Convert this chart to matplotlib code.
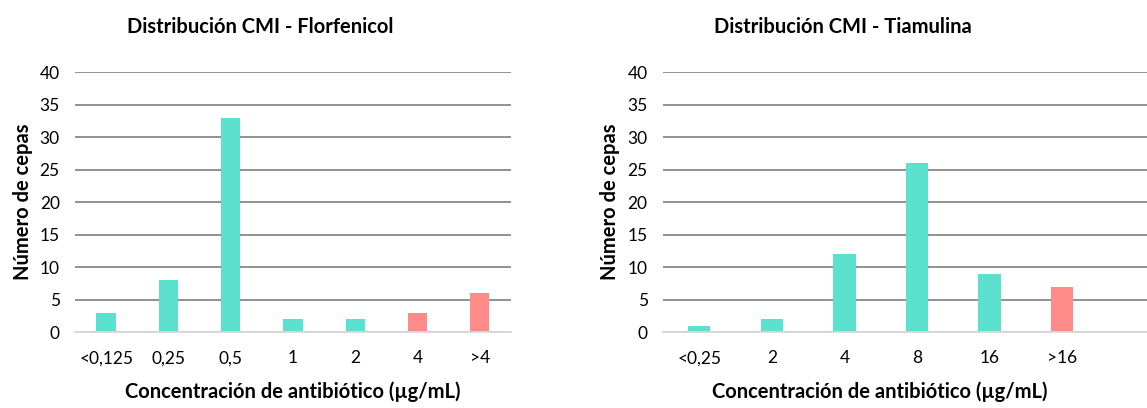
import matplotlib
matplotlib.use("Agg")
import matplotlib.pyplot as plt

plt.rcParams['font.family'] = ['Lato', 'DejaVu Sans']

# Florfenicol
flor_cats = ['<0,125', '0,25', '0,5', '1', '2', '4', '>4']
flor_vals = [3, 8, 33, 2, 2, 3, 6]
flor_resist = [False, False, False, False, False, True, True]

# Tiamulina
tiam_cats = ['<0,25', '2', '4', '8', '16', '>16']
tiam_vals = [1, 2, 12, 26, 9, 7]
tiam_resist = [False, False, False, False, False, True]

TEAL = '#5CE1CF'
SALMON = '#FF8A8A'
GRID = '#888888'


def draw(ax, cats, vals, resist, title, xmax):
    x = list(range(len(cats)))
    colors = [SALMON if r else TEAL for r in resist]
    ax.set_axisbelow(True)
    ax.yaxis.grid(True, color=GRID, linewidth=1.3)
    ax.bar(x, vals, width=0.31, color=colors, zorder=3)
    ax.set_ylim(0, 40)
    ax.set_xlim(-0.5, xmax)
    ax.set_yticks(range(0, 41, 5))
    ax.set_xticks(x)
    ax.set_xticklabels(cats)
    for s in ['top', 'right', 'left']:
        ax.spines[s].set_visible(False)
    ax.spines['bottom'].set_color('#D9D9D9')
    ax.spines['bottom'].set_linewidth(1.3)
    ax.spines['bottom'].set_zorder(4)
    ax.tick_params(axis='both', length=0, labelsize=12.5, colors='black')
    ax.tick_params(axis='x', pad=13)
    ax.tick_params(axis='y', pad=11)
    ax.set_ylabel('Número de cepas', fontsize=14.5, fontweight='bold', labelpad=5)
    ax.set_xlabel('Concentración de antibiótico (µg/mL)', fontsize=14.5,
                  fontweight='bold', labelpad=11)
    ax.set_title(title, fontsize=14.5, fontweight='bold', pad=28)


fig = plt.figure(figsize=(11.47, 4.08), dpi=100)
ax1 = fig.add_axes([0.0654, 0.186, 0.380, 0.637])
ax2 = fig.add_axes([0.578, 0.186, 0.422, 0.637])

draw(ax1, flor_cats, flor_vals, flor_resist, 'Distribución CMI - Florfenicol', len(flor_cats) - 0.5)
draw(ax2, tiam_cats, tiam_vals, tiam_resist, 'Distribución CMI - Tiamulina', len(tiam_cats) - 0.5 + 0.67)

# titles and x labels are centred on the chart areas, not the plot areas
ax1.title.set_x(0.425)
ax2.title.set_x(0.372)
ax1.xaxis.label.set_x(0.50)
ax2.xaxis.label.set_x(0.448)

fig.savefig('out.png', dpi=100)
